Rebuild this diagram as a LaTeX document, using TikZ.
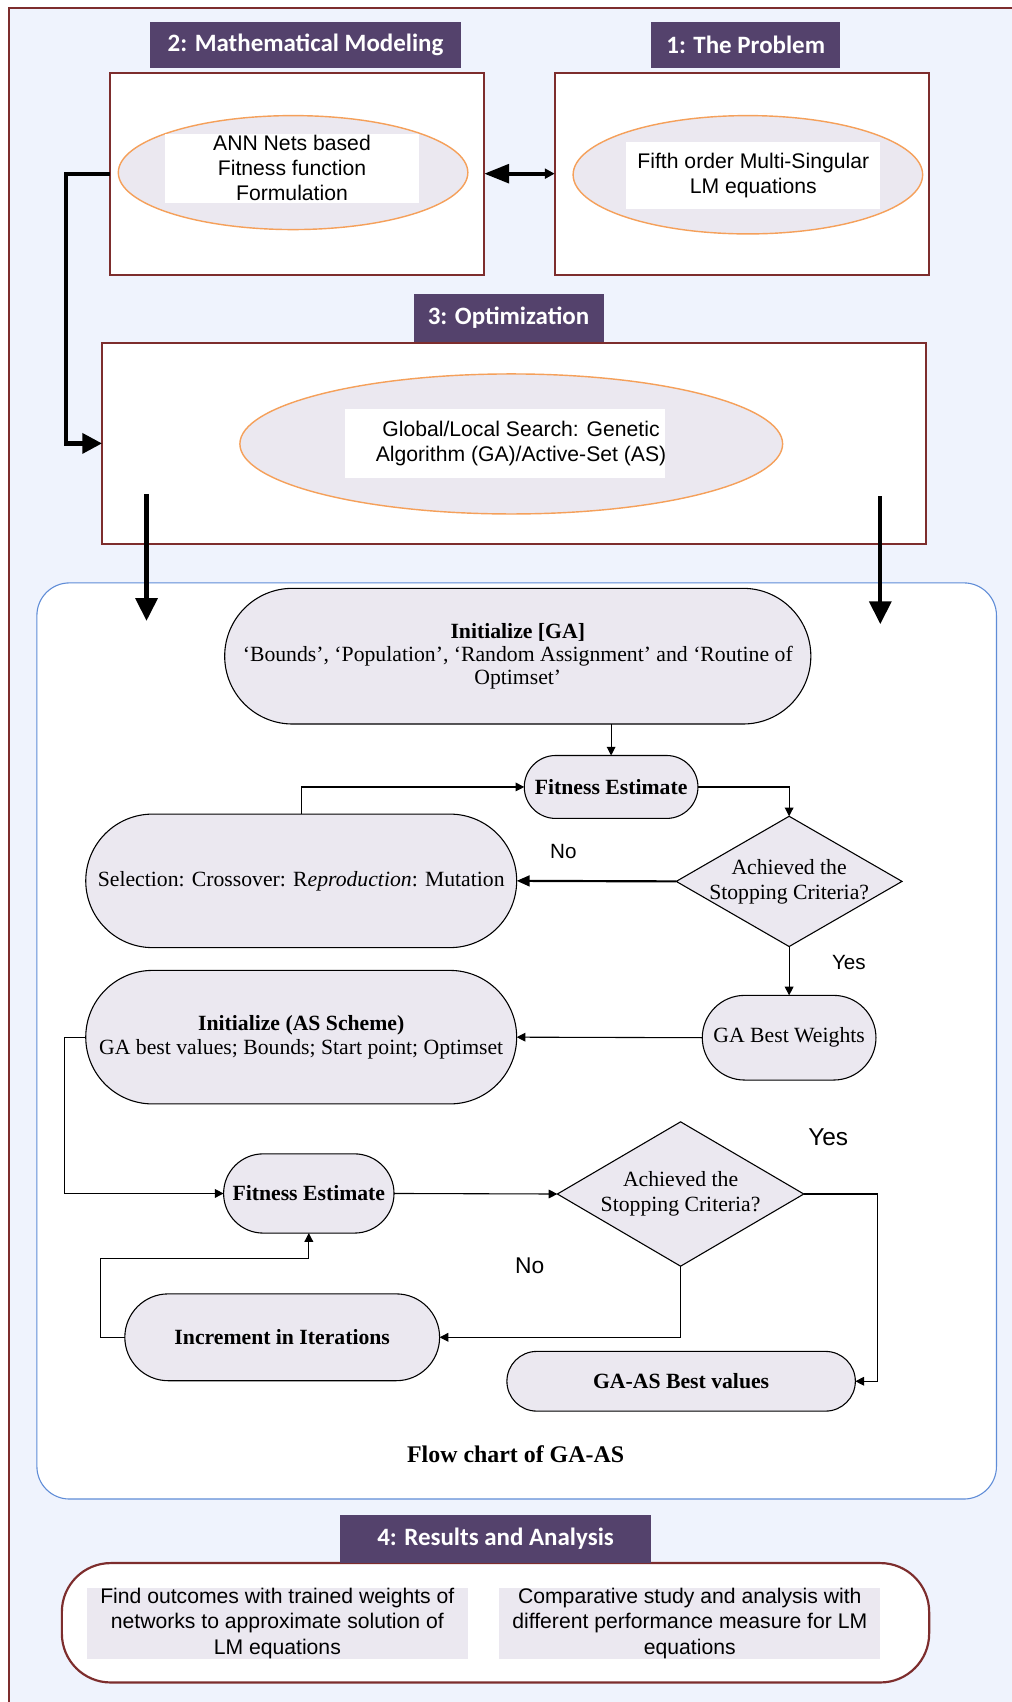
\documentclass[tikz,border=0pt]{standalone}
\usepackage{fontspec}
\setmainfont{Liberation Serif}
\newfontfamily\arialfont{Liberation Sans}
\newfontfamily\calibrifont{Carlito}
\usetikzlibrary{shapes.geometric,shapes.misc,arrows.meta}

\definecolor{hdrpurple}{RGB}{84,66,108}
\definecolor{boxred}{RGB}{125,45,45}
\definecolor{bgblue}{RGB}{239,243,253}
\definecolor{lavfill}{RGB}{235,232,240}
\definecolor{ellorange}{RGB}{245,160,90}
\definecolor{flowblue}{RGB}{95,140,215}

\begin{document}
\begin{tikzpicture}
[x=1pt,y=-1pt,%
  every node/.style={inner sep=0pt,outer sep=0pt},%
  header/.style={fill=hdrpurple,text=white,minimum height=43pt,%
    font=\calibrifont\bfseries\fontsize{23}{26}\selectfont},%
  stagebox/.style={draw=boxred,line width=2pt,fill=white},%
  stageell/.style={ellipse,draw=ellorange,line width=1.3pt,fill=lavfill},%
  txtbox/.style={fill=white,align=center,font=\arialfont\fontsize{19.5}{23}\selectfont},%
  resbox/.style={fill=lavfill,align=center,minimum width=351pt,minimum height=65pt,%
    font=\arialfont\fontsize{19.5}{23.5}\selectfont},%
  term/.style={rounded rectangle,draw,line width=1pt,fill=lavfill,align=center,%
    font=\fontsize{20}{21.5}\selectfont},%
  decide/.style={diamond,draw,line width=1pt,fill=lavfill},%
  flow/.style={line width=1pt,-{Triangle[length=8pt,width=8pt]}},%
  bigflow/.style={line width=4pt,-{Triangle[length=21pt,width=20pt]}},%
  answer/.style={font=\arialfont\fontsize{19}{22}\selectfont}]
\useasboundingbox (0,0) rectangle (932,1568);
\draw[boxred,line width=2pt,fill=bgblue] (8,7) rectangle (960,1600);

\node[stagebox,minimum width=345pt,minimum height=186pt] (box2) at (273.5,160) {};
\node[stagebox,minimum width=345pt,minimum height=186pt] (box1) at (683.5,160) {};
\node[header,minimum width=287pt] (hdr2) at (281.5,41.5) {2: Mathematical Modeling};
\node[header,minimum width=174pt] (hdr1) at (687,41.5) {1: The Problem};
\node[stageell,minimum width=322pt,minimum height=105pt] (ell2) at (270,159) {};
\node[stageell,minimum width=322pt,minimum height=109pt] (ell1) at (689,161) {};
\node[txtbox,minimum width=234pt,minimum height=64pt] (txt2) at (269,155)
  {ANN Nets based\\Fitness function\\Formulation};
\node[txtbox,minimum width=234pt,minimum height=62pt] (txt1) at (694,162)
  {Fifth order Multi-Singular\\LM equations};

\node[stagebox,minimum width=759pt,minimum height=185pt] (box3) at (473.5,408.5) {};
\node[header,minimum width=175pt,minimum height=44pt] (hdr3) at (468.5,293) {3: Optimization};
\node[stageell,minimum width=500pt,minimum height=129pt] (ell3) at (471,409) {};
\node[txtbox,minimum width=295pt,minimum height=63pt] (txt3) at (465.5,408.5) {};
\node[txtbox,fill=none] (txt3l) at (480,408.5)
  {Global/Local Search: Genetic\\Algorithm (GA)/Active-Set (AS)};

\draw[line width=4pt,{Triangle[length=23pt,width=17pt]}-{Triangle[length=9pt,width=9pt]}]
  (box2.east) -- (box1.west);
\draw[line width=4pt,-{Triangle[length=18pt,width=18pt]}]
  (box2.west) -- ++(-40,0) |- (box3.west);

\node[draw=flowblue,line width=1pt,fill=white,rounded corners=30pt,%
  minimum width=884pt,minimum height=844pt] (gabox) at (476,959) {};

\coordinate (lstart) at (135,455);
\coordinate (lend) at (135,572);
\coordinate (rstart) at (811,457);
\coordinate (rend) at (811,575);
\draw[bigflow] (lstart) -- (lend);
\draw[bigflow] (rstart) -- (rend);

\node[term,minimum width=540pt,minimum height=125pt] (initga) at (477,604.5)
  {\textbf{Initialize [GA]}\\%
   `Bounds', `Population', `Random Assignment' and `Routine of\\Optimset'};
\node[term,minimum width=160pt,minimum height=58pt] (fit1) at (563,725)
  {\textbf{Fitness Estimate}};
\node[decide,minimum width=208pt,minimum height=120pt,%
  label={[align=center,font=\fontsize{20}{23}\selectfont]center:Achieved the\\Stopping Criteria?}]
  (stop1) at (727,812) {};
\node[term,minimum width=397pt,minimum height=123pt] (select) at (277.5,811.5)
  {Selection: Crossover: R\textit{eproduction}: Mutation};
\node[term,minimum width=160pt,minimum height=78pt] (gabest) at (727,956)
  {GA Best Weights};
\node[term,minimum width=397pt,minimum height=123pt] (initas) at (277.5,955.5)
  {\textbf{Initialize (AS Scheme)}\\GA best values; Bounds; Start point; Optimset};
\node[term,minimum width=157pt,minimum height=73pt] (fit2) at (284.5,1099.5)
  {\textbf{Fitness Estimate}};
\node[decide,minimum width=227pt,minimum height=133pt,%
  label={[align=center,font=\fontsize{20}{23}\selectfont]center:Achieved the\\Stopping Criteria?}]
  (stop2) at (627,1100) {};
\node[term,minimum width=290pt,minimum height=80pt] (incr) at (260,1232)
  {\textbf{Increment in Iterations}};
\node[term,minimum width=321pt,minimum height=55pt] (gaas) at (627.5,1272.5)
  {\textbf{GA-AS Best values}};

\node[answer] (no1) at (519,784) {No};
\node[answer] (yes1) at (782,887) {Yes};
\node[answer,font=\arialfont\fontsize{22.5}{26}\selectfont] (yes2) at (763,1048) {Yes};
\node[answer,font=\arialfont\fontsize{21}{24}\selectfont] (no2) at (488,1166) {No};
\node[font=\bfseries\fontsize{22}{26}\selectfont] (fctitle) at (475,1340) {Flow chart of GA-AS};

\draw[flow] (fit1.north |- initga.south) -- (fit1.north);
\draw[flow] (fit1.east) -| (stop1.north);
\draw[line width=2pt,-{Triangle[length=12pt,width=10pt]}] (stop1.west) -- (select.east);
\draw[flow] (select.north) |- (fit1.west);
\draw[flow] (stop1.south) -- (gabest.north);
\draw[flow] (gabest.west) -- (initas.east);
\draw[flow] (initas.west) -- ++(-20,0) |- (fit2.west);
\draw[flow] (fit2.east) -- (stop2.west);
\draw[flow] (stop2.east) -- ++(68,0) |- (gaas.east);
\draw[flow] (stop2.south) |- (incr.east);
\draw[flow] (incr.west) -- ++(-22,0) -- ++(0,-73) -| (fit2.south);

\node[draw=boxred,line width=2pt,fill=white,rounded corners=45pt,%
  minimum width=799pt,minimum height=110pt] (resbox) at (456.5,1495) {};
\node[header,minimum width=287pt,minimum height=44pt] (hdr4) at (456.5,1418) {4: Results and Analysis};
\node[resbox] (res1) at (255.5,1495.5)
  {Find outcomes with trained weights of\\networks to approximate solution of\\LM equations};
\node[resbox] (res2) at (635.5,1495.5)
  {Comparative study and analysis with\\different performance measure for LM\\equations};
\end{tikzpicture}
\end{document}
